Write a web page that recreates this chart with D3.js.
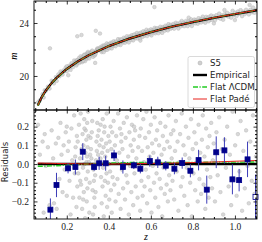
<!DOCTYPE html>
<html>
<head>
<meta charset="utf-8">
<script src="https://cdn.jsdelivr.net/npm/d3@7"></script>
<style>
body{margin:0;background:#fff;}
</style>
</head>
<body>
<script>
// model curve (empirical), residual offsets of the other two fits
var curveZ = [0.062,0.08,0.1,0.125,0.15,0.2,0.25,0.3,0.4,0.5,0.6,0.7,0.8,0.9,1.0,1.105];
var empiricalM = [17.77,18.38,18.89,19.41,19.84,20.53,21.07,21.53,22.26,22.83,23.31,23.72,24.07,24.39,24.67,24.96];
var lcdmRes = [-0.012,-0.012,-0.011,-0.01,-0.009,-0.006,-0.003,0.0,0.005,0.008,0.009,0.009,0.009,0.01,0.01,0.011];
var padeRes = [0.005,0.005,0.004,0.004,0.003,0.002,0.001,0.0,0.0,0.001,0.003,0.005,0.008,0.011,0.015,0.019];

// binned residuals
var binZ = [0.122,0.151,0.206,0.241,0.276,0.33,0.354,0.385,0.425,0.467,0.519,0.55,0.595,0.633,0.671,0.712,0.749,0.788,0.827,0.866,0.911,0.95,0.988,1.02,1.06,1.098];
var binRes = [-0.244,-0.112,-0.023,-0.016,0.066,-0.016,0.004,0.004,0.046,-0.016,-0.007,-0.025,0.016,0.009,-0.009,-0.025,0.005,-0.036,0.021,-0.137,0.063,0.073,-0.082,-0.086,0.025,-0.176];
var binErr = [0.06,0.065,0.027,0.04,0.045,0.02,0.035,0.04,0.03,0.035,0.02,0.025,0.03,0.03,0.025,0.03,0.03,0.035,0.055,0.075,0.085,0.07,0.08,0.06,0.095,0.12];

// S5 supernovae: [z, residual]
var s5 = [
[0.063,0.21],[0.072,0.05],[0.085,0.12],[0.09,-0.26],[0.095,0.16],[0.1,-0.01],[0.11,0.09],[0.118,-0.22],[0.128,0.18],[0.135,0.03],[0.139,-0.21],[0.148,0.11],[0.152,-0.24],
[0.16,0.14],[0.165,-0.08],[0.17,0.22],[0.175,0.05],[0.18,-0.15],[0.185,0.1],[0.19,-0.03],[0.195,0.17],[0.2,-0.17],[0.205,0.07],[0.21,0.12],[0.213,-0.09],[0.218,-0.27],[0.222,0.19],[0.226,0.02],[0.23,-0.18],[0.235,0.26],[0.238,-0.05],[0.242,0.09],[0.246,-0.23],[0.248,0.15],[0.25,-0.12],[0.2,0.2],[0.24,0.04],
[0.252,0.12],[0.255,-0.05],[0.258,0.21],[0.26,-0.18],[0.263,0.03],[0.266,0.27],[0.268,-0.11],[0.27,0.08],[0.273,-0.24],[0.275,0.16],[0.277,-0.02],[0.279,0.1],[0.281,-0.15],[0.283,0.24],[0.285,0.0],[0.287,-0.29],[0.289,0.06],[0.29,0.18],[0.292,-0.08],[0.293,0.13],[0.295,-0.2],[0.296,0.04],[0.297,0.22],[0.298,-0.13],[0.299,0.09],[0.3,-0.04],[0.264,-0.09],[0.278,-0.19],[0.284,0.19],[0.294,0.01],
[0.301,0.28],[0.303,0.15],[0.305,0.01],[0.307,-0.26],[0.309,-0.1],[0.311,0.05],[0.313,0.14],[0.315,0.08],[0.317,0.03],[0.319,0.17],[0.321,0.23],[0.323,-0.14],[0.325,-0.27],[0.327,-0.03],[0.329,-0.09],[0.331,-0.18],[0.333,-0.23],[0.335,-0.06],[0.337,-0.15],[0.339,0.02],[0.341,0.12],[0.343,0.07],[0.345,0.22],[0.347,0.15],[0.349,0.05],[0.352,0.18],[0.356,0.1],[0.36,0.03],
[0.361,0.21],[0.363,-0.07],[0.365,0.13],[0.366,-0.21],[0.368,0.06],[0.37,-0.12],[0.371,0.24],[0.373,-0.02],[0.375,0.09],[0.376,-0.28],[0.378,0.17],[0.38,0.2],[0.381,-0.09],[0.383,0.04],[0.385,-0.17],[0.387,0.11],[0.389,-0.05],[0.39,0.27],[0.392,-0.23],[0.394,0.07],[0.396,-0.1],[0.398,0.15],[0.4,0.0],[0.402,-0.19],[0.404,0.12],[0.406,-0.04],[0.408,0.2],[0.41,-0.14],[0.412,0.08],[0.414,-0.26],[0.416,0.17],[0.418,-0.07],[0.42,0.05],
[0.423,0.23],[0.426,-0.11],[0.429,0.1],[0.432,-0.2],[0.435,0.15],[0.438,0.02],[0.441,-0.08],[0.444,0.27],[0.447,-0.16],[0.45,0.06],[0.453,0.19],[0.456,-0.24],[0.459,0.12],[0.462,-0.03],[0.465,0.08],[0.468,-0.13],[0.471,0.22],[0.474,0.0],[0.477,-0.19],[0.48,0.14],[0.483,-0.06],[0.486,0.25],[0.489,-0.1],[0.492,0.04],[0.495,-0.27],[0.498,0.17],[0.501,-0.01],[0.504,0.1],[0.507,-0.15],[0.51,0.21],[0.513,0.07],[0.516,-0.22],[0.519,0.13],[0.522,-0.05],[0.525,0.18],[0.528,-0.12],[0.531,0.03],[0.534,0.26],[0.537,-0.18],[0.54,0.09],[0.543,-0.02],[0.546,0.15],[0.549,-0.25],[0.46,0.16],[0.52,0.2],
[0.552,0.19],[0.555,-0.09],[0.558,0.07],[0.561,-0.17],[0.564,0.24],[0.567,0.01],[0.57,-0.12],[0.573,0.14],[0.576,-0.03],[0.579,0.28],[0.582,-0.21],[0.585,0.09],[0.588,-0.07],[0.591,0.17],[0.594,0.04],[0.597,-0.14],[0.6,0.21],[0.603,-0.26],[0.606,0.11],[0.609,-0.01],[0.612,0.06],[0.615,-0.1],[0.618,0.25],[0.621,-0.18],[0.624,0.13],[0.627,-0.05],[0.63,0.18],[0.633,0.02],[0.636,-0.23],[0.639,0.1],[0.642,-0.08],[0.645,0.22],[0.648,-0.13],[0.651,0.05],[0.654,-0.28],[0.657,0.15],[0.66,-0.02],[0.663,0.08],[0.666,-0.16],[0.669,0.2],[0.672,0.0],[0.675,-0.11],[0.678,0.12],[0.681,-0.2],[0.684,0.26],[0.687,-0.06],[0.69,0.09],[0.693,-0.14],[0.696,0.16],[0.699,0.03],
[0.703,-0.09],[0.707,0.18],[0.711,-0.19],[0.715,0.07],[0.719,0.23],[0.723,-0.04],[0.727,0.12],[0.731,-0.25],[0.735,0.01],[0.739,0.16],[0.743,-0.12],[0.747,0.27],[0.751,-0.07],[0.755,0.1],[0.759,-0.17],[0.763,0.05],[0.767,0.2],[0.771,-0.02],[0.775,-0.22],[0.779,0.14],[0.783,0.03],[0.787,-0.1],[0.791,0.24],[0.795,-0.28],[0.799,0.08],[0.803,-0.05],[0.807,0.17],[0.811,-0.14],[0.815,0.11],[0.819,0.0],[0.823,-0.2],[0.827,0.21],[0.831,-0.08],[0.835,0.06],[0.839,-0.16],[0.843,0.13],[0.847,0.26],[0.851,-0.11],[0.855,0.04],[0.859,-0.24],[0.863,0.19],[0.867,-0.03],[0.871,0.09],[0.875,-0.18],[0.879,0.15],[0.883,-0.07],[0.887,0.22],[0.891,-0.13],[0.895,0.02],[0.899,0.11],
[0.905,-0.2],[0.912,0.17],[0.918,-0.06],[0.925,0.25],[0.931,-0.15],[0.938,0.08],[0.944,-0.27],[0.951,0.13],[0.957,-0.02],[0.963,0.2],[0.97,-0.12],[0.976,0.05],[0.982,-0.22],[0.989,0.28],[0.995,-0.08],[1.001,0.1],[1.008,-0.17],[1.014,0.16],[1.021,-0.04],[1.027,0.23],[1.034,-0.25],[1.04,0.07],[1.047,-0.13],[1.053,0.18],[1.06,-0.01],[1.066,-0.21],[1.073,0.12],[1.08,-0.09],[1.086,0.26],[1.093,-0.16],[1.1,0.04],
[0.12,2.78],[0.25,1.93],[0.27,1.84],[0.338,1.6],[0.358,1.25],[0.617,1.82],[0.335,-0.8],[0.207,-0.55],[0.95,0.45],[1.0,-0.45],[0.78,0.4],[0.55,-0.4],[1.07,0.5],[0.9,-0.42]
];

var xTicks = [0.2,0.4,0.6,0.8,1.0];
var mTicks = [20,24];
var resTicks = [-0.2,-0.1,0.0,0.1,0.2];

var svg = d3.select("body").append("svg").attr("width",262).attr("height",242);

var x = d3.scaleLinear().domain([0.044,1.105]).range([34,257]);
var yTop = d3.scaleLinear().domain([17.43,25.66]).range([110,1]);
var yBot = d3.scaleLinear().domain([-0.294,0.289]).range([219,110]);
var model = d3.scaleLinear().domain(curveZ).range(empiricalM);

var defs = svg.append("defs");
defs.append("clipPath").attr("id","cTop").append("rect").attr("x",34).attr("y",1).attr("width",223).attr("height",109);
defs.append("clipPath").attr("id","cBot").append("rect").attr("x",34).attr("y",110).attr("width",223).attr("height",109);

var gTop = svg.append("g").attr("clip-path","url(#cTop)");
var gBot = svg.append("g").attr("clip-path","url(#cBot)");

function dots(g, yf) {
  g.selectAll("circle.pt").data(s5).enter().append("circle")
      .attr("class","pt")
      .attr("cx",function(d){return x(d[0]);})
      .attr("cy",yf)
      .attr("r",1.8)
      .attr("fill","#d0d0d0")
      .attr("stroke","#aaaaaa")
      .attr("stroke-width",0.5)
      .attr("opacity",0.8);
}
dots(gTop, function(d){return yTop(model(d[0])+d[1]);});
dots(gBot, function(d){return yBot(d[1]);});

var idx = d3.range(curveZ.length);
function drawCurves(g, yf) {
  var ln = d3.line().x(function(i){return x(curveZ[i]);});
  g.append("path").datum(idx).attr("fill","none").attr("stroke","#000").attr("stroke-width",2.4)
      .attr("d",ln.y(function(i){return yf(i,0);}));
  g.append("path").datum(idx).attr("fill","none").attr("stroke","#22cc22").attr("stroke-width",1.4)
      .attr("stroke-dasharray","5,1.5,1.2,1.5")
      .attr("d",ln.y(function(i){return yf(i,lcdmRes[i]);}));
  g.append("path").datum(idx).attr("fill","none").attr("stroke","#e8231c").attr("stroke-width",1)
      .attr("d",ln.y(function(i){return yf(i,padeRes[i]);}));
}
drawCurves(gTop, function(i,r){return yTop(empiricalM[i]+r);});
drawCurves(gBot, function(i,r){return yBot(r);});

// binned residuals with error bars
var bins = svg.append("g");
bins.selectAll("line").data(binZ).enter().append("line")
    .attr("x1",function(d){return x(d);}).attr("x2",function(d){return x(d);})
    .attr("y1",function(d,i){return Math.min(219,yBot(binRes[i]-binErr[i]));})
    .attr("y2",function(d,i){return yBot(binRes[i]+binErr[i]);})
    .attr("stroke","#3d3db8").attr("stroke-width",1);
bins.selectAll("rect").data(binZ).enter().append("rect")
    .attr("x",function(d){return x(d)-2.5;})
    .attr("y",function(d,i){return yBot(binRes[i])-2.5;})
    .attr("width",5).attr("height",5)
    .attr("fill",function(d,i){return i==binZ.length-1 ? "#fff" : "#00008b";})
    .attr("stroke","#00008b").attr("stroke-width",0.8);

// frames
svg.append("rect").attr("x",34).attr("y",1).attr("width",223).attr("height",109)
    .attr("fill","none").attr("stroke","#000").attr("stroke-width",0.9);
svg.append("rect").attr("x",34).attr("y",110).attr("width",223).attr("height",109)
    .attr("fill","none").attr("stroke","#000").attr("stroke-width",0.9);

// inward ticks on every side
var fmt = d3.format(".1f");
function side(orient, scale, pos, major, minor, label) {
  var mk = {bottom:d3.axisBottom, top:d3.axisTop, left:d3.axisLeft, right:d3.axisRight}[orient];
  var tr = (orient=="bottom"||orient=="top") ? "translate(0,"+pos+")" : "translate("+pos+",0)";
  svg.append("g").attr("transform",tr)
      .call(mk(scale).tickValues(minor).tickSize(-2).tickFormat(""))
      .call(function(g){g.select(".domain").remove();});
  var g = svg.append("g").attr("transform",tr)
      .call(mk(scale).tickValues(major).tickSize(-3.5).tickPadding(orient=="left"?5:4).tickFormat(label || ""))
      .call(function(g){g.select(".domain").remove();});
  g.attr("font-family","Liberation Serif, serif").attr("font-size",9.5);
  g.selectAll("text").attr("fill","#222");
  g.selectAll("line").attr("stroke-width",0.8);
}
var xMinor = d3.range(0.05,1.101,0.05).filter(function(v){return Math.abs(v*5-Math.round(v*5))>1e-6;});
side("top", x, 1, xTicks, xMinor, null);
side("bottom", x, 110, xTicks, xMinor, null);
side("top", x, 110, xTicks, xMinor, null);
side("bottom", x, 219, xTicks, xMinor, fmt);
var mMinor = [18,19,21,22,23,25];
side("left", yTop, 34, mTicks, mMinor, d3.format("d"));
side("right", yTop, 257, mTicks, mMinor, null);
var rMinor = d3.range(-0.28,0.281,0.02).filter(function(v){return Math.abs(v*10-Math.round(v*10))>1e-6;});
side("left", yBot, 34, resTicks, rMinor, fmt);
side("right", yBot, 257, resTicks, rMinor, null);

// axis titles
svg.append("text").attr("x",15).attr("y",58).attr("text-anchor","middle")
    .attr("font-family","Liberation Serif, serif").attr("font-style","italic").attr("font-size",10)
    .attr("transform","rotate(-90,15,56)").text("m");
svg.append("text").attr("x",146).attr("y",240).attr("text-anchor","middle")
    .attr("font-family","Liberation Serif, serif").attr("font-style","italic").attr("font-size",10).text("z");
svg.append("text").attr("transform","translate(7.5,162) rotate(-90)").attr("text-anchor","middle")
    .attr("font-family","DejaVu Sans, sans-serif").attr("font-size",8.5).attr("fill","#222").text("Residuals");

// legend
var lg = svg.append("g");
lg.append("rect").attr("x",188).attr("y",56.5).attr("width",66.5).attr("height",51).attr("rx",2)
    .attr("fill","#fff").attr("fill-opacity",0.85).attr("stroke","#d0d0d0").attr("stroke-width",0.8);
var names = ["S5","Empirical","Flat \u039BCDM","Flat Pad\u00E9"];
var rows = lg.selectAll("g.row").data(names).enter().append("g")
    .attr("transform",function(d,i){return "translate(192,"+(63+i*12)+")";});
rows.append("text").attr("x",18).attr("y",3.3).attr("font-family","DejaVu Sans, sans-serif")
    .attr("font-size",8.6).attr("fill","#222").text(function(d){return d;});
lg.append("circle").attr("cx",200).attr("cy",63).attr("r",2).attr("fill","#d0d0d0").attr("stroke","#aaaaaa").attr("stroke-width",0.5);
lg.append("line").attr("x1",193).attr("x2",207).attr("y1",75).attr("y2",75).attr("stroke","#000").attr("stroke-width",2.4);
lg.append("line").attr("x1",193).attr("x2",207).attr("y1",87).attr("y2",87).attr("stroke","#22cc22").attr("stroke-width",1.4).attr("stroke-dasharray","5,1.5,1.2,1.5");
lg.append("line").attr("x1",193).attr("x2",207).attr("y1",99).attr("y2",99).attr("stroke","#e8231c").attr("stroke-width",1);
</script>
</body>
</html>
